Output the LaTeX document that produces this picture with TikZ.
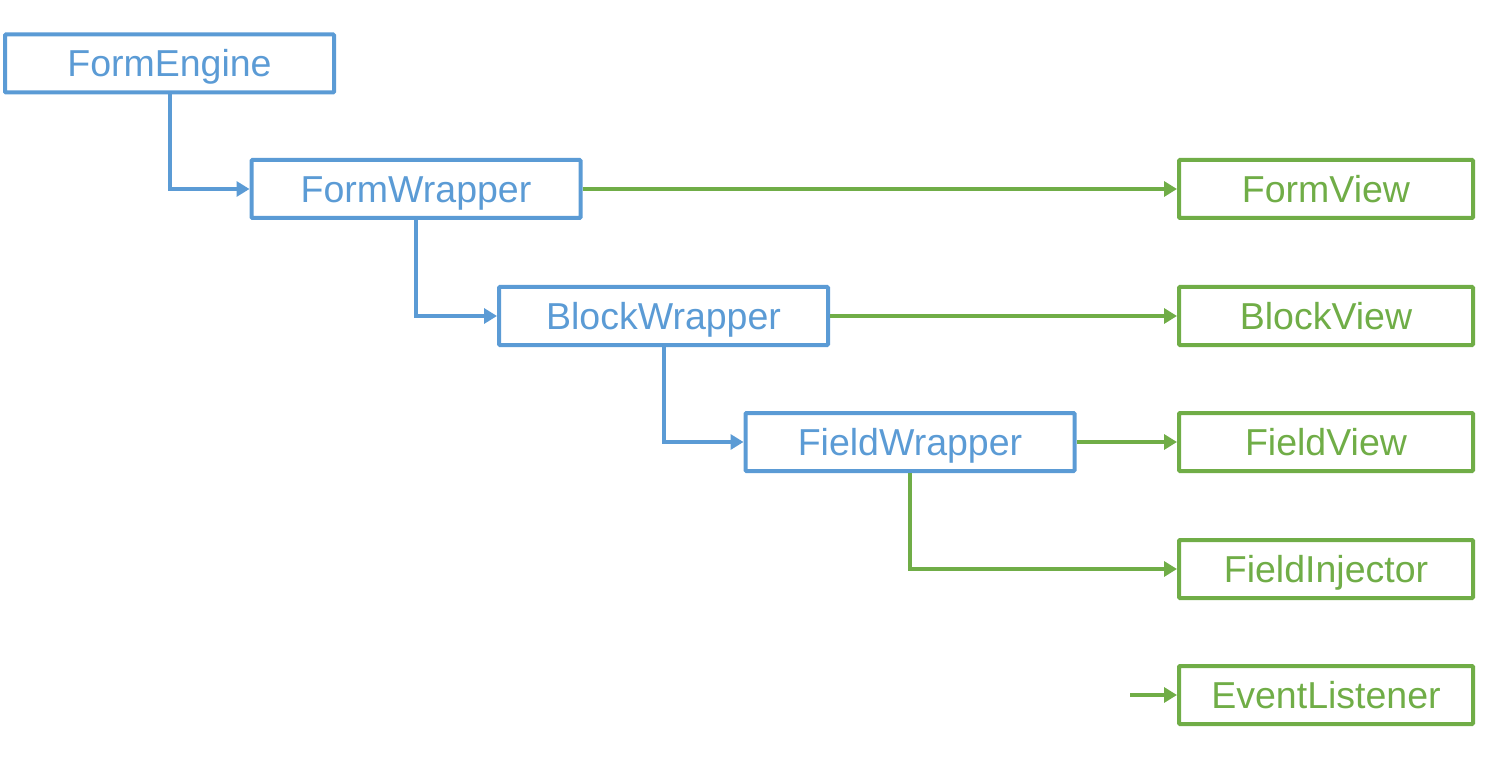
\documentclass[tikz,border=0pt]{standalone}
\usepackage{fontspec}
\setmainfont{Liberation Sans}
\usetikzlibrary{arrows.meta}
\definecolor{bl}{HTML}{5B9BD5}
\definecolor{gr}{HTML}{70AD47}
\begin{document}
\begin{tikzpicture}[x=1pt,y=-1pt,
  box/.style={draw,line width=4pt,rounded corners=1pt,inner sep=0pt,font=\fontsize{37.5}{40}\selectfont,minimum height=58pt,text height=29pt,text depth=2pt},
  wbox/.style={box,draw=bl,text=bl,minimum width=329pt},
  vbox/.style={box,draw=gr,text=gr,minimum width=294pt},
  conn/.style={line width=4pt,-{Triangle[length=13pt,width=15pt]}},
  bconn/.style={conn,draw=bl},
  gconn/.style={conn,draw=gr}]
\useasboundingbox (0,0) rectangle (1495,775);
\node[wbox] (fe) at (169.5,63.5) {FormEngine};
\node[wbox] (fw) at (416,189) {FormWrapper};
\node[wbox] (bw) at (663.5,316) {BlockWrapper};
\node[wbox] (flw) at (910,442) {FieldWrapper};
\node[vbox] (fv) at (1326,189) {FormView};
\node[vbox] (bv) at (1326,316) {BlockView};
\node[vbox] (flv) at (1326,442) {FieldView};
\node[vbox] (fi) at (1326,569) {FieldInjector};
\node[vbox] (el) at (1326,695) {EventListener};
\coordinate (elsrc) at (1130,695);
\draw[bconn] (fe.south) |- (fw.west);
\draw[bconn] (fw.south) |- (bw.west);
\draw[bconn] (bw.south) |- (flw.west);
\draw[gconn] (flw.south) |- (fi.west);
\draw[gconn] (fw.east) -- (fv.west);
\draw[gconn] (bw.east) -- (bv.west);
\draw[gconn] (flw.east) -- (flv.west);
\draw[gconn] (elsrc) -- (el.west);
\end{tikzpicture}
\end{document}
